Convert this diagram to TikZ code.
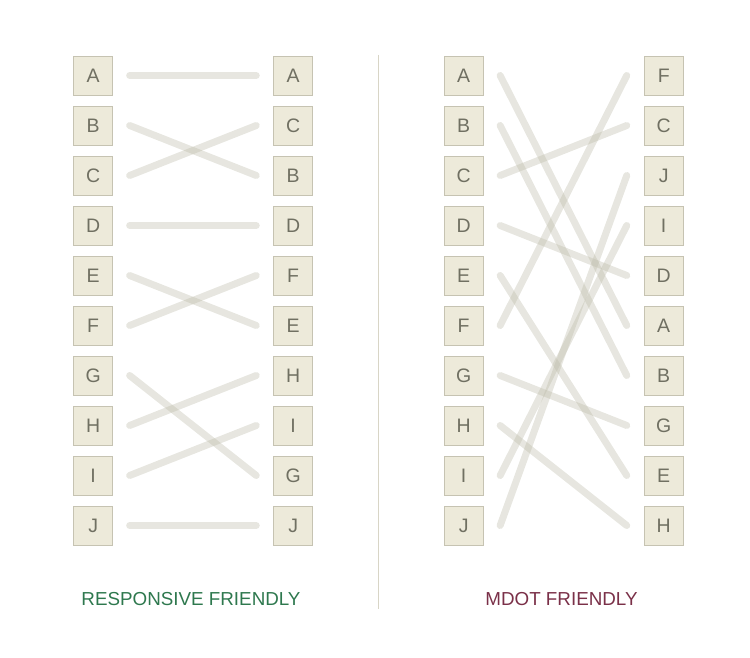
\documentclass[tikz,border=0pt]{standalone}
\usepackage{fontspec}
\setmainfont{Liberation Sans}
\usetikzlibrary{calc}
\definecolor{boxfill}{RGB}{237,234,218}
\definecolor{boxdraw}{RGB}{198,195,178}
\definecolor{boxtext}{RGB}{112,112,98}
\definecolor{linkcol}{RGB}{188,186,168}
\definecolor{divcol}{RGB}{216,213,198}
\definecolor{respgreen}{RGB}{46,120,78}
\definecolor{mdotred}{RGB}{122,48,72}
\begin{document}
\begin{tikzpicture}[x=1pt,y=-1pt,
  letterbox/.style={draw=boxdraw,fill=boxfill,line width=0.9pt,minimum width=39pt,minimum height=39pt,inner sep=0pt,text=boxtext,font=\fontsize{19.5}{19.5}\selectfont},
  link/.style={draw=linkcol,line width=7pt,line cap=round,opacity=0.36},
  caption/.style={font=\fontsize{18.8}{18.8}\selectfont,inner sep=0pt}]
\useasboundingbox (0,0) rectangle (750,658);
% left half
\foreach \t [count=\i from 0] in {A,B,C,D,E,F,G,H,I,J}
  \node[letterbox] (l\t) at (93.2,{75.5+50*\i}) {\t};
\foreach \t [count=\i from 0] in {A,C,B,D,F,E,H,I,G,J}
  \node[letterbox] (r\t) at (293.2,{75.5+50*\i}) {\t};
% right half
\foreach \t [count=\i from 0] in {A,B,C,D,E,F,G,H,I,J}
  \node[letterbox] (ml\t) at (463.7,{75.5+50*\i}) {\t};
\foreach \t [count=\i from 0] in {F,C,J,I,D,A,B,G,E,H}
  \node[letterbox] (mr\t) at (663.7,{75.5+50*\i}) {\t};
% links
\foreach \t in {A,B,C,D,E,F,G,H,I,J}{
  \draw[link] ($(l\t.east)+(16.5,0)$) -- ($(r\t.west)+(-17,0)$);
  \draw[link] ($(ml\t.east)+(16.5,0)$) -- ($(mr\t.west)+(-17,0)$);
}
% divider
\coordinate (dtop) at (378,55);
\coordinate (dbot) at (378,609);
\draw[divcol,line width=0.9pt] (dtop) -- (dbot);
% captions
\node[caption,text=respgreen] (cap1) at (191,599.5) {RESPONSIVE FRIENDLY};
\node[caption,text=mdotred] (cap2) at (561.5,599.5) {MDOT FRIENDLY};
\end{tikzpicture}
\end{document}
